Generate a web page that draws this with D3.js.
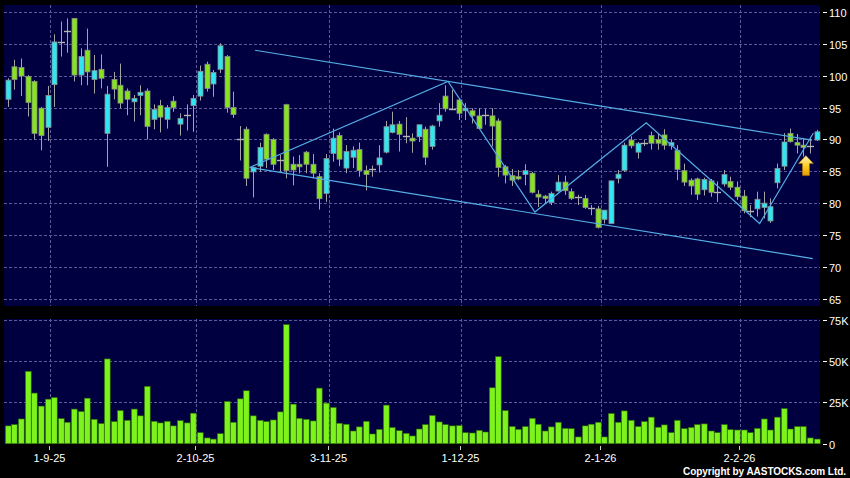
<!DOCTYPE html>
<html>
<head>
<meta charset="utf-8">
<script src="https://cdn.jsdelivr.net/npm/d3@7"></script>
<style>
  body { margin: 0; background: #000; }
  svg { display: block; }
</style>
</head>
<body>
<div class="chartContainer"></div>
<script>
// daily OHLC, oldest first (22-8-25 .. 18-2-26)
const openP = [96.3, 101.4, 101.3, 99.9, 99.1, 94.9, 91.9, 98.6, 105.3, 107.0,
  109.0, 100.1, 104.0, 99.4, 101.0, 90.95, 99.4, 98.5, 97.6, 95.9,
  96.9, 97.6, 93.15, 95.3, 93.15, 96.0, 92.4, 93.8, 95.3, 96.8,
  101.8, 98.7, 101.0, 103.0, 95.0, 90.0, 91.6, 84.9, 85.8, 90.8,
  90.0, 86.8, 95.45, 86.1, 86.1, 88.0, 86.1, 84.15, 81.5, 87.8,
  90.6, 85.5, 87.2, 88.4, 85.1, 85.35, 86.0, 88.0, 91.1, 92.4,
  90.6, 90.2, 90.4, 91.6, 88.9, 92.9, 96.8, 94.7, 96.2, 94.5,
  94.5, 93.7, 93.8, 93.7, 92.9, 85.7, 84.3, 84.15, 84.5, 84.7,
  81.4, 81.1, 80.1, 81.9, 83.3, 81.8, 80.9, 80.75, 79.3, 79.1,
  77.45, 76.8, 83.9, 85.15, 89.9, 88.0, 89.4, 90.6, 90.0, 90.7,
  89.0, 88.3, 85.1, 83.6, 83.8, 82.1, 83.5, 81.8, 83.0, 83.4,
  82.5, 81.1, 78.8, 79.1, 79.3, 77.2, 83.2, 85.8, 90.95, 89.5,
  89.1, 88.95, 89.9]

const highP = [99.6, 102.5, 102.7, 100.1, 99.3, 95.1, 98.4, 106.5, 108.5, 109.0,
  109.0, 104.3, 107.4, 103.25, 103.35, 98.4, 100.6, 101.9, 98.0, 96.97,
  98.5, 98.0, 95.5, 96.2, 95.4, 96.8, 94.1, 95.5, 96.97, 101.6,
  102.2, 100.9, 105.1, 103.25, 97.5, 92.1, 92.0, 85.7, 89.5, 90.95,
  90.2, 87.55, 95.6, 87.3, 87.55, 88.2, 87.7, 84.7, 87.7, 91.7,
  91.1, 89.1, 88.9, 89.5, 85.9, 85.9, 89.1, 92.9, 94.35, 92.9,
  93.5, 90.95, 92.3, 92.0, 92.3, 95.7, 98.5, 97.8, 96.45, 95.7,
  94.9, 94.9, 94.8, 94.9, 93.3, 86.0, 85.35, 85.2, 86.1, 84.9,
  82.05, 81.3, 81.8, 84.4, 84.3, 82.3, 81.3, 81.3, 79.7, 79.55,
  78.9, 83.5, 85.2, 89.5, 90.5, 89.6, 89.9, 91.2, 90.95, 91.6,
  89.9, 89.1, 86.2, 83.9, 84.0, 84.0, 83.8, 83.4, 85.2, 84.15,
  83.4, 82.05, 79.7, 81.8, 81.8, 80.75, 86.2, 91.0, 91.7, 90.85,
  90.2, 90.4, 91.5]

const lowP = [95.1, 97.8, 96.8, 93.6, 90.0, 88.3, 89.75, 95.1, 103.0, 103.6,
  99.1, 98.5, 98.5, 97.2, 98.0, 85.7, 96.3, 94.9, 93.8, 92.8,
  93.8, 90.0, 91.6, 91.1, 91.7, 94.35, 90.6, 91.4, 91.2, 96.1,
  97.5, 96.7, 100.4, 94.2, 93.4, 86.7, 82.7, 80.9, 84.9, 85.5,
  85.2, 84.9, 83.9, 82.8, 84.7, 84.7, 83.9, 79.0, 80.2, 86.5,
  85.8, 84.7, 85.5, 84.15, 82.0, 84.15, 84.8, 87.8, 90.95, 88.1,
  89.4, 87.9, 89.6, 86.0, 88.4, 92.0, 94.35, 94.6, 93.05, 93.05,
  92.5, 91.7, 92.3, 88.9, 84.15, 83.1, 82.7, 83.6, 82.8, 81.5,
  79.4, 79.95, 79.7, 81.8, 81.3, 80.5, 79.7, 79.1, 78.1, 76.0,
  76.8, 76.8, 83.1, 84.9, 88.6, 87.0, 88.96, 88.4, 88.4, 88.4,
  88.4, 83.6, 82.7, 81.3, 80.5, 81.2, 81.0, 80.2, 82.6, 82.05,
  80.5, 78.4, 77.8, 77.9, 77.6, 76.9, 82.3, 85.2, 89.5, 87.8,
  87.3, 87.8, 89.8]

const closeP = [99.3, 99.4, 99.95, 95.8, 90.95, 90.6, 96.9, 105.3, 105.3, 107.0,
  100.1, 103.0, 100.6, 100.8, 99.6, 97.1, 97.9, 95.7, 96.3, 96.45,
  97.4, 92.05, 94.7, 93.5, 95.0, 95.0, 93.3, 93.8, 96.45, 100.7,
  98.0, 100.5, 104.7, 95.0, 93.9, 90.0, 83.9, 85.6, 88.75, 86.9,
  86.1, 86.8, 85.1, 85.2, 85.7, 86.1, 84.7, 80.7, 87.0, 90.2,
  86.9, 88.1, 88.3, 85.1, 84.5, 85.35, 87.1, 92.0, 92.3, 90.8,
  90.6, 89.75, 92.3, 87.2, 92.1, 93.8, 94.8, 94.7, 94.1, 94.9,
  93.7, 91.7, 93.8, 92.1, 85.6, 84.4, 83.6, 83.8, 85.1, 81.7,
  80.95, 80.75, 81.5, 83.3, 81.95, 80.75, 80.9, 79.3, 79.3, 76.2,
  78.9, 83.5, 84.55, 89.1, 89.0, 89.4, 89.4, 89.4, 89.4, 89.1,
  89.5, 85.3, 83.3, 82.7, 81.4, 83.7, 81.7, 81.8, 84.5, 82.5,
  81.0, 78.8, 78.8, 80.6, 80.0, 79.45, 85.45, 89.6, 89.65, 89.1,
  88.75, 88.95, 91.2]

// volume in thousands of shares
const volK = [10.8, 11.6, 15, 43.9, 30.7, 22.8, 27, 28, 15.2, 13,
  21, 19.5, 27.6, 14.8, 12.2, 51.4, 13.4, 20.1, 14.2, 21,
  16.9, 34.8, 13.6, 12.6, 13.6, 10.8, 14, 12.6, 18.5, 6.7,
  3.5, 2.8, 6.1, 25.6, 13, 27.2, 32.1, 16.9, 14.2, 13.4,
  14.4, 19.3, 72.2, 24, 15.4, 14.8, 13.8, 33.7, 24.6, 22,
  12.4, 11.8, 7.7, 10.2, 13.6, 5.9, 8.7, 23.4, 9.8, 7.9,
  6.3, 4.7, 8.9, 11.6, 17.1, 13.2, 11.6, 10.8, 11, 6.7,
  6.5, 8.1, 7.1, 33.9, 52.8, 20.1, 10.4, 8.7, 10.4, 15.4,
  11.8, 7.7, 10.2, 13, 9.3, 9.1, 4.1, 10.8, 11.8, 13,
  4.1, 18.3, 13, 19.9, 14.2, 10.4, 13.4, 16.1, 10, 11.4,
  6.7, 14.2, 9.1, 9.8, 11.6, 12, 7.7, 6.7, 11.6, 8.5,
  8.3, 8.3, 6.7, 9.3, 15, 8.3, 16.1, 21.3, 8.9, 10.4,
  10.4, 3.5, 2.8]

const tickIdx = [6, 28, 48, 68, 89, 110]
const tickLabels = ['1-9-25', '2-10-25', '3-11-25', '1-12-25', '2-1-26', '2-2-26']
const priceTicks = [65, 70, 75, 80, 85, 90, 95, 100, 105, 110]
const volTicks = [0, 25, 50, 75]
const volTickLabels = ['0', '25K', '50K', '75K']

// drawn lines, [bar index, price]
const upperLine = [[37.3, 104.0], [121.3, 89.9]]
const lowerLine = [[36.5, 85.6], [121.4, 71.3]]
const zigzag = [[36.5, 85.6], [66.4, 99.1], [79.5, 78.6], [96.3, 92.6], [113.4, 76.8], [121.5, 91.0]]
const signalIdx = 120

const WIDTH = 850, HEIGHT = 478
const plot = {left: 4, right: 820, top: 5, bottom: 306, vTop: 319, vBottom: 444}
const NAVY = '#000040', GRID = '#5a5a9c', UP = '#2fe6f2', DOWN = '#86e41e', WICK = '#a4a4a4', TREND = '#55aee6'
const FONT = '"Liberation Sans", Arial, sans-serif'

var svg = d3.select('.chartContainer').append('svg')
  .attr('width', WIDTH)
  .attr('height', HEIGHT)
  .attr('viewBox', [0, 0, WIDTH, HEIGHT])

svg.append('rect').attr('width', WIDTH).attr('height', HEIGHT).attr('fill', '#000')

var xPos = d3.scaleLinear().domain([0, openP.length]).range([4.4, plot.right])
var cx = i => xPos(i + 0.5)
var yPrice = d3.scaleLinear().domain([65, 110]).range([298.7, 12])
var yVol = d3.scaleLinear().domain([0, 75]).range([443.7, 320])

// panels
svg.append('rect')
  .attr('x', plot.left).attr('y', plot.top)
  .attr('width', plot.right - plot.left).attr('height', plot.bottom - plot.top)
  .attr('fill', NAVY)
svg.append('rect')
  .attr('x', plot.left).attr('y', plot.vTop)
  .attr('width', plot.right - plot.left).attr('height', plot.vBottom - plot.vTop)
  .attr('fill', NAVY)

var grid = svg.append('g')
  .attr('stroke', GRID)
  .attr('stroke-width', 1)
  .attr('stroke-dasharray', '3,2')

grid.selectAll('.hp')
  .data(priceTicks)
  .enter()
  .append('line')
  .attr('class', 'hp')
  .attr('x1', plot.left).attr('x2', plot.right)
  .attr('y1', d => Math.round(yPrice(d)) + 0.5)
  .attr('y2', d => Math.round(yPrice(d)) + 0.5)

grid.selectAll('.hv')
  .data(volTicks.slice(1))
  .enter()
  .append('line')
  .attr('class', 'hv')
  .attr('x1', plot.left).attr('x2', plot.right)
  .attr('y1', d => Math.round(yVol(d * 1)) + 0.5)
  .attr('y2', d => Math.round(yVol(d * 1)) + 0.5)

// vertical grid through both panels
tickIdx.forEach(function(t) {
  var gx = Math.round(xPos(t + 1) - 0.5) + 0.5
  grid.append('line').attr('x1', gx).attr('x2', gx).attr('y1', plot.top).attr('y2', plot.bottom)
  grid.append('line').attr('x1', gx).attr('x2', gx).attr('y1', plot.vTop).attr('y2', plot.vBottom)
})

// candles
var idx = d3.range(openP.length)
var candles = svg.append('g')

candles.selectAll('.wick')
  .data(idx)
  .enter()
  .append('line')
  .attr('class', 'wick')
  .attr('x1', i => Math.round(cx(i)) + 0.5)
  .attr('x2', i => Math.round(cx(i)) + 0.5)
  .attr('y1', i => yPrice(highP[i]))
  .attr('y2', i => yPrice(lowP[i]))
  .attr('stroke', WICK)
  .attr('stroke-width', 1)

candles.selectAll('.body')
  .data(idx.filter(i => openP[i] !== closeP[i]))
  .enter()
  .append('rect')
  .attr('class', 'body')
  .attr('x', i => Math.round(cx(i)) - 2)
  .attr('width', 5)
  .attr('y', i => yPrice(Math.max(openP[i], closeP[i])))
  .attr('height', i => Math.max(1, Math.abs(yPrice(openP[i]) - yPrice(closeP[i]))))
  .attr('fill', i => closeP[i] > openP[i] ? UP : DOWN)
  .attr('stroke', '#8c8c8c')
  .attr('stroke-width', 0.8)

// doji: flat grey dash
candles.selectAll('.doji')
  .data(idx.filter(i => openP[i] === closeP[i]))
  .enter()
  .append('line')
  .attr('class', 'doji')
  .attr('x1', i => Math.round(cx(i)) - 3)
  .attr('x2', i => Math.round(cx(i)) + 4)
  .attr('y1', i => Math.round(yPrice(openP[i])) + 0.5)
  .attr('y2', i => Math.round(yPrice(openP[i])) + 0.5)
  .attr('stroke', '#b4b4b4')
  .attr('stroke-width', 1.4)

// volume
svg.append('g').selectAll('rect')
  .data(idx)
  .enter()
  .append('rect')
  .attr('x', i => Math.round(cx(i)) - 2.6)
  .attr('width', 5.8)
  .attr('y', i => yVol(volK[i]))
  .attr('height', i => yVol(0) - yVol(volK[i]))
  .attr('fill', '#7df21c')
  .attr('stroke', '#2c6a06')
  .attr('stroke-width', 0.6)

// trend lines
var trendLine = d3.line().x(d => cx(d[0])).y(d => yPrice(d[1]))
svg.append('g')
  .selectAll('path')
  .data([upperLine, lowerLine, zigzag])
  .enter()
  .append('path')
  .attr('d', trendLine)
  .attr('fill', 'none')
  .attr('stroke', TREND)
  .attr('stroke-width', 1.2)

// signal arrow under the bar
var defs = svg.append('defs')
var grad = defs.append('linearGradient').attr('id', 'gold').attr('x1', 0).attr('x2', 0).attr('y1', 0).attr('y2', 1)
grad.append('stop').attr('offset', '0%').attr('stop-color', '#fff6b4')
grad.append('stop').attr('offset', '55%').attr('stop-color', '#ffc81e')
grad.append('stop').attr('offset', '100%').attr('stop-color', '#e49a00')

var ax = cx(signalIdx) + 2.5, ay = yPrice(lowP[signalIdx]) - 1
svg.append('path')
  .attr('d', 'M' + ax + ',' + ay + ' l7.5,8 h-4 v12 h-7 v-12 h-4 z')
  .attr('fill', 'url(#gold)')
  .attr('stroke', '#b07400')
  .attr('stroke-width', 0.5)

// right axes
var axisG = svg.append('g').attr('font-family', FONT).attr('font-size', 11).attr('fill', '#fff')

priceTicks.forEach(function(t) {
  var ty = Math.round(yPrice(t)) + 0.5
  axisG.append('line').attr('x1', 823).attr('x2', 827).attr('y1', ty).attr('y2', ty).attr('stroke', '#fff')
  axisG.append('text').attr('x', 829).attr('y', ty + 4).text(t)
})

volTicks.forEach(function(t, k) {
  var ty = Math.round(yVol(t)) + 0.5
  axisG.append('line').attr('x1', 823).attr('x2', 827).attr('y1', ty).attr('y2', ty).attr('stroke', '#fff')
  axisG.append('text').attr('x', 829).attr('y', ty + 4).text(volTickLabels[k])
})

// date axis
tickIdx.forEach(function(t, k) {
  var tx = Math.round(xPos(t + 1) - 1.5) + 0.5
  axisG.append('line').attr('x1', tx).attr('x2', tx).attr('y1', 446).attr('y2', 450).attr('stroke', '#ccc')
  axisG.append('text')
    .attr('x', tx)
    .attr('y', 461.5)
    .attr('text-anchor', 'middle')
    .text(tickLabels[k])
})

svg.append('text')
  .attr('x', 846)
  .attr('y', 475)
  .attr('text-anchor', 'end')
  .attr('font-family', FONT)
  .attr('font-size', 10)
  .attr('font-weight', 'bold')
  .attr('fill', '#fff')
  .attr('textLength', 163)
  .attr('lengthAdjust', 'spacing')
  .text('Copyright by AASTOCKS.com Ltd.')
</script>
</body>
</html>
